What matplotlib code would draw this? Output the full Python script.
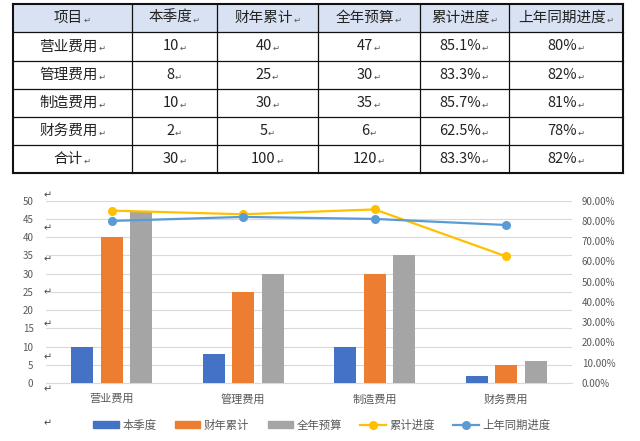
import matplotlib.pyplot as plt
import numpy as np
from matplotlib.patches import Rectangle
from matplotlib.lines import Line2D

plt.rcParams['font.family'] = ['Noto Sans CJK SC', 'DejaVu Sans']

# table data
headers = ['项目', '本季度', '财年累计', '全年预算', '累计进度', '上年同期进度']
items = ['营业费用', '管理费用', '制造费用', '财务费用', '合计']
quarter = [10, 8, 10, 2, 30]
fiscal = [40, 25, 30, 5, 100]
budget = [47, 30, 35, 6, 120]
progress = ['85.1%', '83.3%', '85.7%', '62.5%', '83.3%']
last_year = ['80%', '82%', '81%', '78%', '82%']

# chart data (without the total row)
categories = items[:4]
quarter_vals = quarter[:4]
fiscal_vals = fiscal[:4]
budget_vals = budget[:4]
progress_vals = [0.851, 0.833, 0.857, 0.625]
last_year_vals = [0.80, 0.82, 0.81, 0.78]

BLUE = '#4472C4'
ORANGE = '#ED7D31'
GRAY = '#A5A5A5'
YELLOW = '#FFC000'
LBLUE = '#5B9BD5'
TXT = '#595959'

W, H = 640, 441
fig = plt.figure(figsize=(W / 100, H / 100), dpi=100)

# overlay in pixel coordinates for the table
ax0 = fig.add_axes([0, 0, 1, 1])
ax0.set_xlim(0, W)
ax0.set_ylim(H, 0)
ax0.axis('off')

col_x = [13, 132, 217, 318, 420, 509, 623]
row_y = [4, 32, 61, 89, 117, 145, 173]

ax0.add_patch(Rectangle((col_x[0], row_y[0]), col_x[-1] - col_x[0], row_y[1] - row_y[0],
                        facecolor='#D9E2F3', edgecolor='none', zorder=1))
for i, x in enumerate(col_x):
    lw = 1.5 if i in (0, len(col_x) - 1) else 0.9
    ax0.plot([x, x], [row_y[0], row_y[-1]], color='#111111', lw=lw, zorder=3)
for i, y in enumerate(row_y):
    lw = 1.5 if i in (0, len(row_y) - 1) else 0.9
    ax0.plot([col_x[0], col_x[-1]], [y, y], color='#111111', lw=lw, zorder=3)

cells = [headers]
for r in range(len(items)):
    cells.append([items[r], str(quarter[r]), str(fiscal[r]), str(budget[r]),
                  progress[r], last_year[r]])

renderer = fig.canvas.get_renderer()
for r, row in enumerate(cells):
    yc = (row_y[r] + row_y[r + 1]) / 2
    for c, val in enumerate(row):
        xc = (col_x[c] + col_x[c + 1]) / 2 - 4
        t = ax0.text(xc, yc, val, ha='center', va='center', fontsize=10.5,
                     color='#222222', zorder=4)
        bb = t.get_window_extent(renderer)
        ax0.text(bb.x1 + 0.5, yc + 2, '↵', ha='left', va='center', fontsize=6,
                 color='#555555', family=['DejaVu Sans'], zorder=4)

# paragraph marks on the left of the chart
for y in [195, 228, 259, 292, 324, 357, 389, 423]:
    ax0.text(48, y, '↵', ha='center', va='center', fontsize=7, color='#444444',
             family=['DejaVu Sans'])

# chart
left, right = 46, 572
top, bottom = 200.7, 383
ax = fig.add_axes([left / W, (H - bottom) / H, (right - left) / W, (bottom - top) / H])
x = np.arange(len(categories))
bw = 0.167
off = 0.224
ax.bar(x - off, quarter_vals, bw, color=BLUE, zorder=3)
ax.bar(x, fiscal_vals, bw, color=ORANGE, zorder=3)
ax.bar(x + off, budget_vals, bw, color=GRAY, zorder=3)
ax.set_xlim(-0.5, len(categories) - 0.5)
ax.set_ylim(0, 50)
ax.set_yticks(range(0, 51, 5))
ax.set_xticks(x)
ax.set_xticklabels(categories)
ax.grid(axis='y', color='#D9D9D9', lw=0.8, zorder=0)
for s in ['top', 'right', 'left']:
    ax.spines[s].set_visible(False)
ax.spines['bottom'].set_color('#D9D9D9')
ax.tick_params(axis='both', length=0, colors=TXT)
ax.tick_params(axis='y', labelsize=7, pad=9)
ax.tick_params(axis='x', labelsize=8, pad=8)
ax.set_facecolor('none')

ax2 = ax.twinx()
ax2.plot(x, progress_vals, color=YELLOW, lw=1.6, marker='o', markersize=5.5, zorder=5)
ax2.plot(x, last_year_vals, color=LBLUE, lw=1.6, marker='o', markersize=5.5, zorder=5)
ax2.set_ylim(0, 0.9)
ax2.set_yticks(np.arange(0, 0.91, 0.1))
ax2.set_yticklabels([f'{v * 100:.2f}%' for v in np.arange(0, 0.91, 0.1)])
for s in ax2.spines.values():
    s.set_visible(False)
ax2.tick_params(axis='y', length=0, labelsize=7, colors=TXT, pad=7)

handles = [
    Rectangle((0, 0), 1, 1, color=BLUE),
    Rectangle((0, 0), 1, 1, color=ORANGE),
    Rectangle((0, 0), 1, 1, color=GRAY),
    Line2D([], [], color=YELLOW, lw=1.6, marker='o', markersize=5.5),
    Line2D([], [], color=LBLUE, lw=1.6, marker='o', markersize=5.5),
]
labels = ['本季度', '财年累计', '全年预算', '累计进度', '上年同期进度']
leg = fig.legend(handles, labels, loc='center', bbox_to_anchor=(0.503, (H - 425) / H),
                 ncol=5, frameon=False, fontsize=8.2, handlelength=2.25, handleheight=0.5,
                 columnspacing=1.6, handletextpad=0.3)
for t in leg.get_texts():
    t.set_color(TXT)

fig.savefig('out.png', dpi=100)
